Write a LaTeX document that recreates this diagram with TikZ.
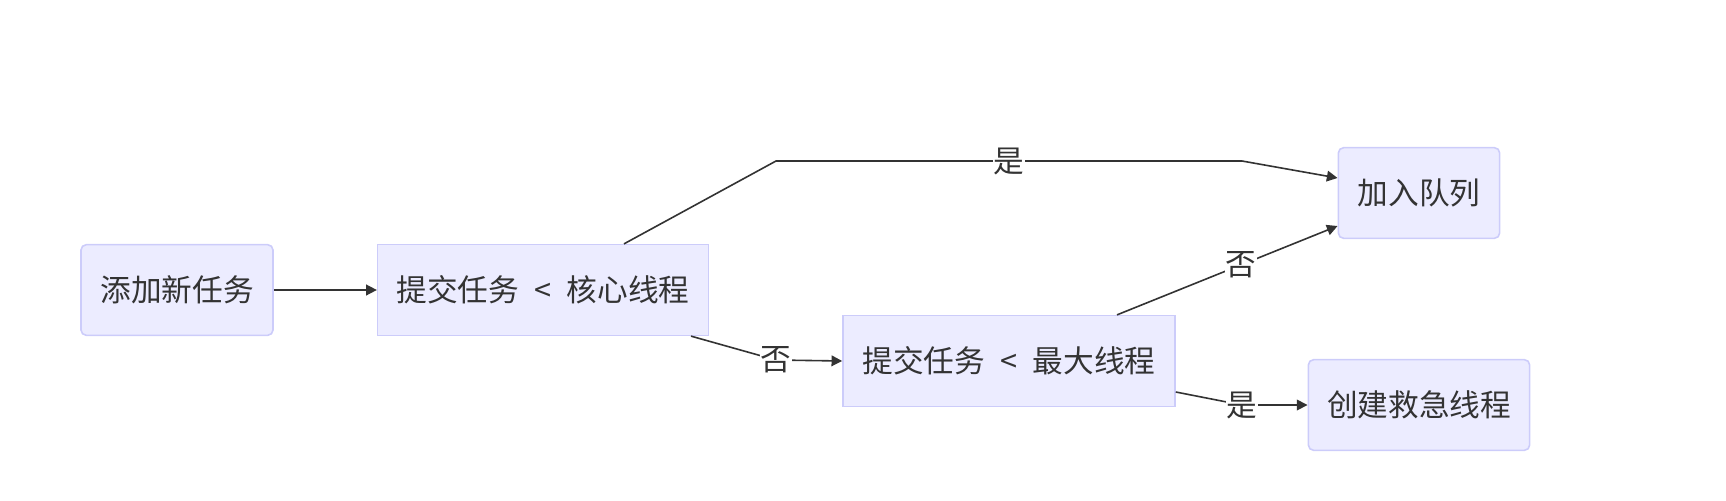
\documentclass[tikz,border=0pt]{standalone}
\usepackage{fontspec}
\newfontfamily\cjk{Noto Sans CJK SC}
\usepackage{xcolor}
\usepackage{tikz}
\usetikzlibrary{arrows.meta,positioning}
\definecolor{boxfill}{RGB}{236,236,255}
\definecolor{boxline}{RGB}{204,204,250}
\definecolor{txt}{RGB}{51,51,51}

\begin{document}
\begin{tikzpicture}[
x=0.75pt,
y=-0.75pt,
every node/.style={font=\cjk\fontsize{23}{27}\selectfont,text=txt},
task/.style={rectangle,rounded corners=4pt,draw=boxline,line width=1.2pt,fill=boxfill,align=center,minimum height=68pt},
cond/.style={rectangle,draw=boxline,line width=1.2pt,fill=boxfill,align=center,minimum height=68pt},
arr/.style={-{Triangle[length=8pt,width=8pt]},draw=txt,line width=1.2pt},
lbl/.style={fill=white,inner sep=0.5pt}
]
\useasboundingbox (0,0) rectangle (1726,500);
\node[task,minimum width=144pt] (add) at (177,290) {添加新任务};
\node[cond,minimum width=248pt] (core) at (543,290) {提交任务\hspace{0.5em}<\hspace{0.5em}核心线程};
\node[cond,minimum width=249pt] (max) at (1009,361) {提交任务\hspace{0.5em}<\hspace{0.5em}最大线程};
\node[task,minimum width=121pt] (queue) at (1419,193) {加入队列};
\node[task,minimum width=166pt] (rescue) at (1419,405) {创建救急线程};

\draw[arr] (add) -- (core);
\draw[arr] ([xshift=60.75pt]core.north) -- (776,161) -- node[lbl]{是} (1242,161) -- ([yshift=11.25pt]queue.west);
\draw[arr] ([xshift=111pt]core.south) -- (776,360) node[lbl]{否} -- (max.west);
\draw[arr] ([xshift=81pt]max.north) -- node[lbl,pos=0.56]{否} ([yshift=-24.75pt]queue.west);
\draw[arr] ([yshift=-23.25pt]max.east) -- (1242,405) node[lbl]{是} -- (rescue.west);
\end{tikzpicture}
\end{document}
